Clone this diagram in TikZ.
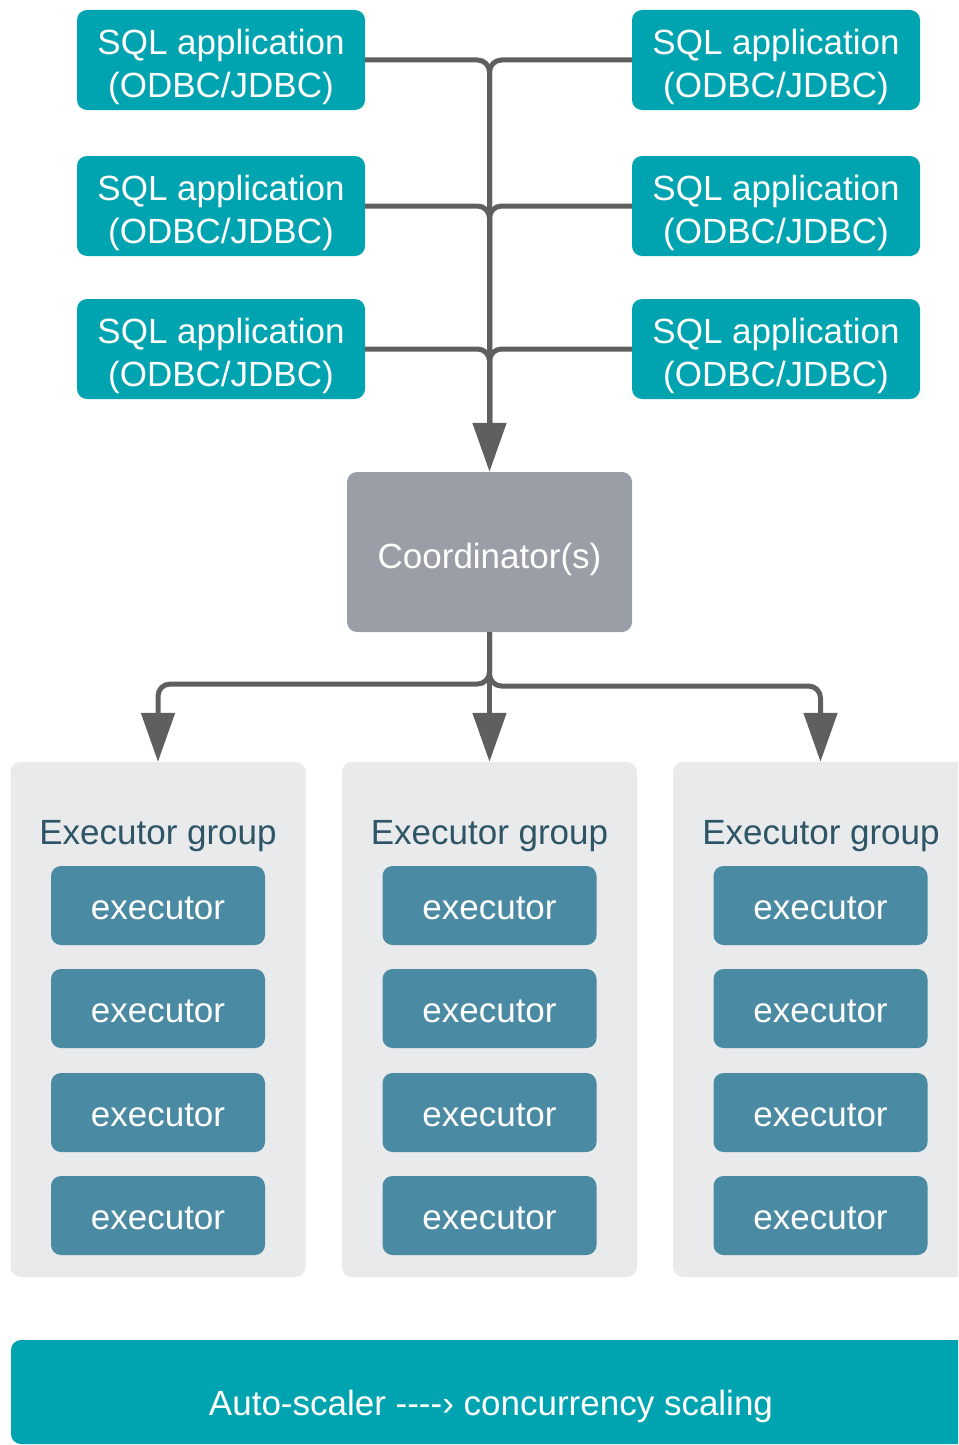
\documentclass[tikz,border=0pt]{standalone}
\usepackage{fontspec}
\setmainfont{Liberation Sans}
\usetikzlibrary{arrows.meta,calc}
\definecolor{sqlteal}{HTML}{00A4B0}
\definecolor{coordgray}{HTML}{9A9EA6}
\definecolor{groupbg}{HTML}{E9EAEC}
\definecolor{execblue}{HTML}{4A8AA3}
\definecolor{grouptext}{HTML}{2E5566}
\definecolor{linegray}{HTML}{5F5F5F}
\begin{document}
\begin{tikzpicture}[x=1pt,y=-1pt,
  bigfont/.style={font=\fontsize{35}{43.5}\selectfont},
  sqlbox/.style={fill=sqlteal, rounded corners=10pt, minimum width=288pt, minimum height=100pt, inner sep=0pt},
  sqltext/.style={bigfont, text=white, align=center, inner sep=0pt, yshift=-7pt},
  coordbox/.style={fill=coordgray, rounded corners=10pt, minimum width=285pt, minimum height=160pt, inner sep=0pt},
  coordtext/.style={bigfont, text=white, inner sep=0pt, yshift=-7pt},
  groupbox/.style={fill=groupbg, rounded corners=10pt, minimum width=295pt, minimum height=515pt, inner sep=0pt},
  grouplabel/.style={bigfont, text=grouptext, inner sep=0pt},
  execbox/.style={fill=execblue, rounded corners=10pt, minimum width=214pt, minimum height=79pt, inner sep=0pt},
  exectext/.style={bigfont, text=white, inner sep=0pt, yshift=-3pt},
  bannerbox/.style={fill=sqlteal, rounded corners=10pt, minimum width=990pt, minimum height=104pt, inner sep=0pt},
  conn/.style={draw=linegray, line width=5pt},
  tip/.style={-{Triangle[width=33pt,length=49pt]}, linegray}
]
\useasboundingbox (0,0) rectangle (958,1445);
\clip (0,0) rectangle (958,1445);

% SQL applications
\foreach \n/\y in {1/60,2/206,3/349}{
  \node[sqlbox] (sl\n) at (221,\y) {};
  \node[sqltext] (slt\n) at (sl\n.center) {SQL application\\(ODBC/JDBC)};
  \node[sqlbox] (sr\n) at (776,\y) {};
  \node[sqltext] (srt\n) at (sr\n.center) {SQL application\\(ODBC/JDBC)};
}

% Coordinator
\node[coordbox] (coord) at (489.5,552) {};
\node[coordtext] (coordt) at (coord.center) {Coordinator(s)};

% Executor groups
\node[groupbox] (g1) at (158,1019.5) {};
\node[groupbox] (g2) at (489.5,1019.5) {};
\node[groupbox] (g3) at (820.5,1019.5) {};
\node[grouplabel] (gl1) at (158,836) {Executor group};
\node[grouplabel] (gl2) at (489.5,836) {Executor group};
\node[grouplabel] (gl3) at (821,836) {Executor group};

\foreach \g/\x in {1/158,2/489.5,3/820.5}{
  \foreach \r/\y in {1/905.5,2/1008.5,3/1112.5,4/1215.5}{
    \node[execbox] (e\g\r) at (\x,\y) {};
    \node[exectext] (et\g\r) at (e\g\r.center) {executor};
  }
}

% Banner
\node[bannerbox] (banner) at (506,1392) {};
\node[bigfont, text=white, inner sep=0pt] (bannertext) at (491,1406) {Auto-scaler -{}-{}-{}-› concurrency scaling};

% Top connectors
\coordinate (tr) at (489.5,425);
\foreach \n in {1,2,3}{
  \draw[conn, rounded corners=12pt] (sl\n.east) -| (tr);
  \draw[conn, rounded corners=12pt] (sr\n.west) -| (tr);
}
\draw[conn, tip] (tr) -- (coord.north);

% Bottom connectors
\coordinate (bl) at (489.5,684);
\coordinate (bq) at (489.5,686);
\draw[conn, tip, rounded corners=12pt] (coord.south) -- (bl) -| (g1.north);
\draw[conn, tip] (coord.south) -- (g2.north);
\draw[conn, tip, rounded corners=12pt] (coord.south) -- (bq) -| (g3.north);
\end{tikzpicture}
\end{document}
